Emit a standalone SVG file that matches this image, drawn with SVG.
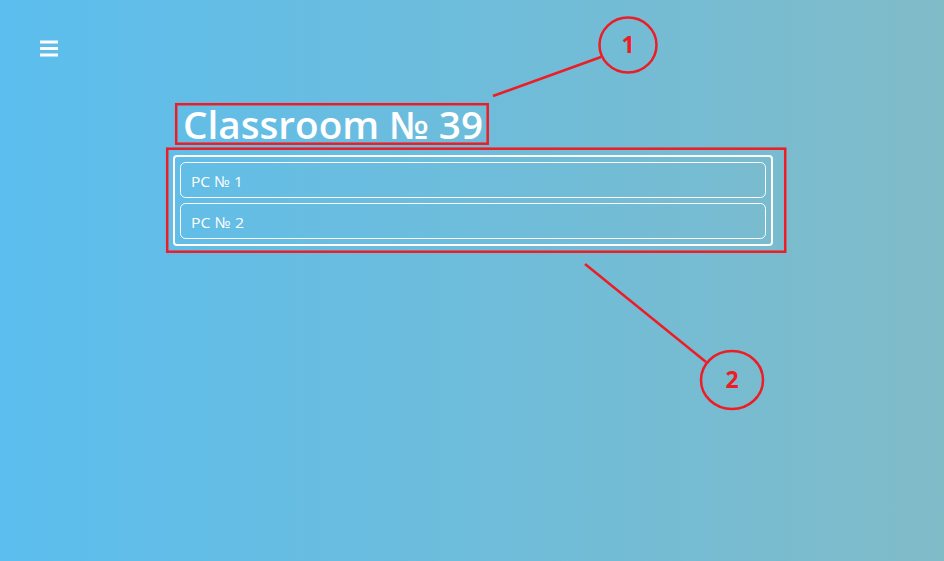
<svg xmlns="http://www.w3.org/2000/svg" width="944" height="561" viewBox="0 0 944 561">
<defs>
<linearGradient id="bg" x1="0" y1="0" x2="1" y2="0">
<stop offset="0" stop-color="#5BBEEE"/>
<stop offset="1" stop-color="#80BBC8"/>
</linearGradient>
<style>
.red{fill:none;stroke:#EE1C25;stroke-width:2.5}
.wbox{fill:none;stroke:#FFFFFF}
.item{font-family:"Open Sans","Noto Sans",sans-serif;font-size:15px;fill:#FFFFFF}
.num{font-family:"Open Sans","Noto Sans",sans-serif;font-size:23px;font-weight:700;fill:#EE1C25;text-anchor:middle}
.bar{fill:#FFFFFF}
</style>
</defs>
<rect width="944" height="561" fill="url(#bg)"/>
<g id="menu">
<rect class="bar" x="40" y="40.5" width="18" height="3"/>
<rect class="bar" x="40" y="47" width="18" height="3"/>
<rect class="bar" x="40" y="53.5" width="18" height="3"/>
</g>
<g id="title">
<text x="183" y="139" font-family="Open Sans, Noto Sans, sans-serif" font-size="38" font-weight="600" fill="#FFFFFF" textLength="300" lengthAdjust="spacingAndGlyphs">Classroom № 39</text>
<rect class="red" x="176.2" y="104.2" width="311.5" height="39.5"/>
</g>
<g id="list">
<rect class="wbox" x="174" y="156" width="598" height="89" rx="3" stroke-width="2"/>
<g id="pc1">
<rect class="wbox" x="180.5" y="162.5" width="585" height="35" rx="5"/>
<text class="item" x="191" y="186.5" textLength="52" lengthAdjust="spacingAndGlyphs">PC № 1</text>
</g>
<g id="pc2">
<rect class="wbox" x="180.5" y="203.5" width="585" height="35" rx="5"/>
<text class="item" x="191" y="227.5" textLength="53" lengthAdjust="spacingAndGlyphs">PC № 2</text>
</g>
<rect class="red" x="167.2" y="148.7" width="618" height="103"/>
</g>
<g id="connectors">
<line class="red" x1="493" y1="96" x2="601" y2="57"/>
<line class="red" x1="585" y1="264" x2="706" y2="362"/>
</g>
<g id="callout1">
<ellipse class="red" cx="628" cy="45" rx="28.5" ry="27.5"/>
<text class="num" x="628" y="53">1</text>
</g>
<g id="callout2">
<ellipse class="red" cx="732" cy="380" rx="31" ry="29"/>
<text class="num" x="732" y="388">2</text>
</g>
</svg>
